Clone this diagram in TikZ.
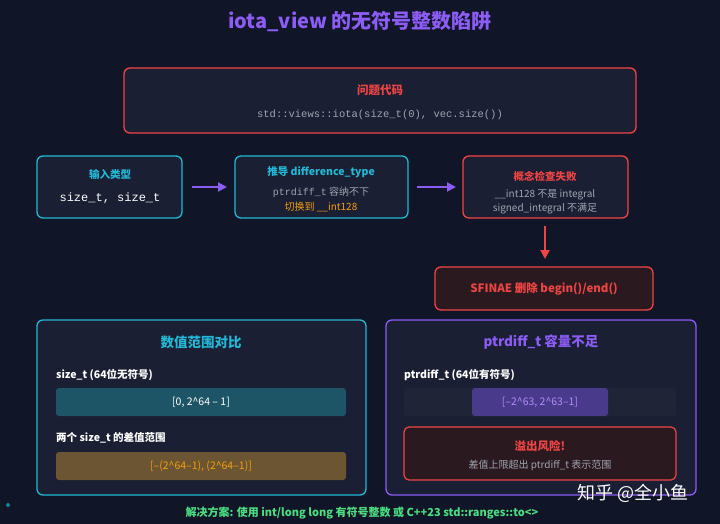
\documentclass[tikz,border=0pt]{standalone}
\usepackage{fontspec}
\setmainfont{Noto Sans CJK SC}
\setmonofont{Liberation Mono}
\usetikzlibrary{arrows.meta}
\usetikzlibrary{shapes}
\definecolor{bgc}{HTML}{111528}
\definecolor{boxc}{HTML}{1B1F33}
\definecolor{cyanc}{HTML}{22B8D6}
\definecolor{redc}{HTML}{EF4444}
\definecolor{purc}{HTML}{8B5CF6}
\definecolor{orac}{HTML}{F59E0B}
\definecolor{grayc}{HTML}{A0A4B0}
\definecolor{darkred}{HTML}{2A1A20}
\definecolor{tealbar}{HTML}{1E5566}
\definecolor{ambbar}{HTML}{6B5532}
\definecolor{grbar}{HTML}{1F2536}
\definecolor{purbar}{HTML}{4A3A8C}
\definecolor{greenc}{HTML}{4ADE80}

\begin{document}
\begin{tikzpicture}[x=1pt, y=-1pt, font=\sffamily]
	\tikzstyle{boxStyle} = [rounded corners = 6pt, line width = 1.3pt, fill = boxc]
	\tikzstyle{barStyle} = [rounded corners = 3pt, inner sep = 0pt, minimum height = 28pt, font = \fontsize{10.5}{12}\selectfont]
	\tikzstyle{headStyle} = [font = \fontsize{11.5}{13}\selectfont\bfseries]
	\tikzstyle{smallStyle} = [font = \fontsize{10}{12}\selectfont, text = grayc, inner sep = 0pt]
	\tikzstyle{flowArrow} = [-{Triangle[length = 9pt, width = 9pt]}, line width = 2pt]
	\fill[bgc] (0,0) rectangle (720,524);
	\node[font = \fontsize{20}{24}\selectfont\bfseries, text = purc] (title) at (360,22) {iota\_view 的无符号整数陷阱};
	% problem code
	\draw[boxStyle, draw = redc] (124,68) rectangle (636,133);
	\node[headStyle, text = redc] (codehead) at (380,90) {问题代码};
	\node[font = \ttfamily\fontsize{10.5}{12}\selectfont, text = grayc] (code) at (380,115) {std::views::iota(size\_t(0), vec.size())};
	% flow
	\draw[boxStyle, draw = cyanc] (37,156) rectangle (182,218);
	\node[text = cyanc, font = \fontsize{10.5}{12}\selectfont\bfseries] (inhead) at (110,174) {输入类型};
	\node[font = \ttfamily\fontsize{12}{14}\selectfont, text = white] (intype) at (110,198) {size\_t, size\_t};
	\draw[boxStyle, draw = cyanc] (235,156) rectangle (408,218);
	\node[text = cyanc, font = \fontsize{10.5}{12}\selectfont\bfseries] (dedhead) at (321,172) {推导 difference\_type};
	\node[smallStyle] (dedline) at (321,192) {{\ttfamily ptrdiff\_t} 容纳不下};
	\node[smallStyle, text = orac] (dedswitch) at (321,207) {切换到 \_\_int128};
	\draw[boxStyle, draw = redc] (463,156) rectangle (628,218);
	\node[text = redc, font = \fontsize{10.5}{12}\selectfont\bfseries] (failhead) at (545,176) {概念检查失败};
	\node[smallStyle] (failone) at (545,195) {\_\_int128 不是 integral};
	\node[smallStyle] (failtwo) at (545,209) {signed\_integral 不满足};
	\coordinate (a1) at (192,187);
	\coordinate (a2) at (227,187);
	\coordinate (b1) at (417,187);
	\coordinate (b2) at (456,187);
	\coordinate (c1) at (545,226);
	\coordinate (c2) at (545,259);
	\draw[flowArrow, purc] (a1) -- (a2);
	\draw[flowArrow, purc] (b1) -- (b2);
	\draw[flowArrow, redc] (c1) -- (c2);
	\draw[boxStyle, draw = redc, fill = darkred] (435,267) rectangle (653,310);
	\node[text = redc, font = \fontsize{11.5}{13}\selectfont\bfseries] (sfinae) at (544,289) {SFINAE 删除 begin()/end()};
	% range panel
	\draw[boxStyle, draw = cyanc] (37,320) rectangle (366,495);
	\node[text = cyanc, font = \fontsize{13.5}{15}\selectfont\bfseries] (rangehead) at (201,342) {数值范围对比};
	\node[anchor = west, inner sep = 0pt, text = white, font = \fontsize{10.5}{12}\selectfont\bfseries] (sizelab) at (56,375) {size\_t (64位无符号)};
	\node[barStyle, fill = tealbar, minimum width = 290pt, text = white] (sizebar) at (201,402) {[0, 2\textasciicircum 64 – 1]};
	\node[anchor = west, inner sep = 0pt, text = white, font = \fontsize{10.5}{12}\selectfont\bfseries] (difflab) at (56,438) {两个 size\_t 的差值范围};
	\node[barStyle, fill = ambbar, minimum width = 290pt, text = orac] (diffbar) at (201,466) {[–(2\textasciicircum 64–1), (2\textasciicircum 64–1)]};
	% ptrdiff panel
	\draw[boxStyle, draw = purc] (386,320) rectangle (696,495);
	\node[text = purc, font = \fontsize{13.5}{15}\selectfont\bfseries] (ptrhead) at (541,342) {ptrdiff\_t 容量不足};
	\node[anchor = west, inner sep = 0pt, text = white, font = \fontsize{10.5}{12}\selectfont\bfseries] (ptrlab) at (404,375) {ptrdiff\_t (64位有符号)};
	\node[barStyle, fill = grbar, minimum width = 272pt] (ptrbar) at (540,402) {};
	\node[barStyle, fill = purbar, minimum width = 136pt, text = purc!70!white] (ptrrange) at (540,402) {[–2\textasciicircum 63, 2\textasciicircum 63–1]};
	\draw[rounded corners = 5pt, line width = 1.2pt, draw = redc, fill = darkred] (404,427) rectangle (676,480);
	\node[text = redc, font = \fontsize{11.5}{13}\selectfont\bfseries] (riskhead) at (540,446) {溢出风险!};
	\node[smallStyle] (risktext) at (540,465) {差值上限超出 ptrdiff\_t 表示范围};
	% footer
	\fill[cyanc!70!black] (8,505) circle (2pt);
	\node[text = white, font = \fontsize{18}{20}\selectfont] (mark) at (633,493) {知乎 @全小鱼};
	\node[text = greenc, font = \fontsize{11}{13}\selectfont\bfseries] (fix) at (362,513) {解决方案: 使用 int/long long 有符号整数 或 C++23 std::ranges::to<>};
\end{tikzpicture}
\end{document}
